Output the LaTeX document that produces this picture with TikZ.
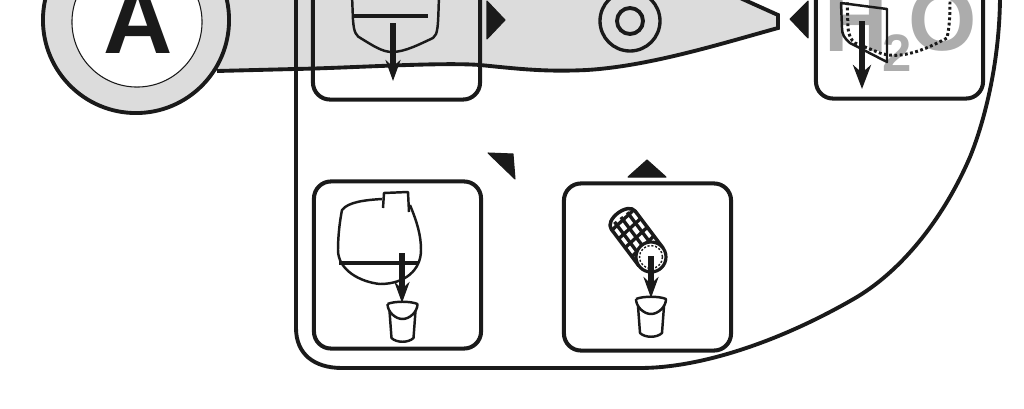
\documentclass[tikz,border=0pt]{standalone}
\usepackage{fontspec}
\usepackage{tikz}
\usepackage{xcolor}
\usetikzlibrary{arrows.meta}
\newfontfamily\signfont{Liberation Sans}
\definecolor{bodygray}{HTML}{DCDCDC}
\definecolor{watergray}{HTML}{ACACAC}
\definecolor{inkdark}{HTML}{1A1A1A}
\tikzset{
    panel/.style={draw=inkdark, line width=1.15pt, rounded corners=0.17cm, minimum width=1.67cm, minimum height=1.67cm, inner sep=0pt},
    outline/.style={draw=inkdark, line width=1.1pt},
    sketch/.style={draw=inkdark, line width=0.7pt, line join=round},
    marker/.style={fill=inkdark, draw=inkdark, line width=0.3pt, line join=round},
    drain/.style={draw=inkdark, line width=1.6pt, -{Stealth[length=0.21cm, width=0.15cm]}},
    bucket/.pic={
        \draw[sketch] (-15,1) .. controls (-8,-2) and (8,-2) .. (15,1) .. controls (15,9) and (7,16) .. (0,16) .. controls (-7,16) and (-15,9) .. (-15,1);
        \draw[sketch] (-13,8) -- (-11,35) .. controls (-6,40) and (6,40) .. (11,35) -- (13,8);
    }
}
\begin{document}
\begin{tikzpicture}[x=0.01cm, y=-0.01cm]
    \useasboundingbox (0,0) rectangle (1024,409);
    \clip (0,0) rectangle (1024,409);
    % machine body
    \fill[bodygray] (137,-5) -- (738,-5) -- (778,15) -- (778,28) .. controls (720,44) and (650,66) .. (587,70) .. controls (545,72) and (520,69) .. (480,65) .. controls (440,62) and (350,68) .. (295,69) -- (217,71) -- (137,71) -- cycle;
    \draw[outline] (217,71) -- (295,69) .. controls (350,68) and (440,62) .. (480,65) .. controls (520,69) and (545,72) .. (587,70) .. controls (650,66) and (720,44) .. (778,28) -- (778,15) -- (738,-3);
    \node[circle, outline, fill=bodygray, minimum size=1.86cm, inner sep=0pt] (discA) at (136,20) {};
    \node[circle, draw=inkdark, line width=0.3pt, fill=white, minimum size=1.3cm, inner sep=0pt] (discB) at (137,22) {};
    \node[anchor=base, inner sep=0pt, text=inkdark, font=\signfont\bfseries\fontsize{27.3}{30}\selectfont] (letterA) at (138.5,53) {A};
    % circuit line
    \draw[outline] (296,-5) -- (296,328) .. controls (296,354) and (314,368) .. (342,368) -- (640,368) .. controls (700,368) and (780,342) .. (857,297) .. controls (905,268) and (945,215) .. (970,157) .. controls (985,120) and (1000,60) .. (1000,-5);
    % gauge
    \draw[sketch, line width=0.95pt] (630,21) circle (30);
    \draw[sketch, line width=1.1pt] (630,21) circle (13);
    % water sign
    \node[anchor=base, inner sep=0pt, text=watergray, font=\signfont\bfseries\fontsize{25}{28}\selectfont] (letterH) at (856,51.5) {H};
    \node[anchor=base, inner sep=0pt, text=watergray, font=\signfont\bfseries\fontsize{15}{18}\selectfont] (digitTwo) at (897.5,71.5) {2};
    \node[anchor=base, inner sep=0pt, text=watergray, font=\signfont\bfseries\fontsize{25}{28}\selectfont] (letterO) at (942.5,51) {O};
    % panels
    \node[panel] (tankPanel) at (396.5,16) {};
    \node[panel] (filterPanel) at (899.5,15) {};
    \node[panel] (drainPanel) at (397.5,265) {};
    \node[panel] (rollerPanel) at (647.5,267) {};
    % markers
    \fill[marker] (487,1) -- (505,20) -- (487,39) -- cycle;
    \fill[marker] (808,1) -- (790,19) -- (808,38) -- cycle;
    \fill[marker] (628,177) -- (647,160) -- (666,177) -- cycle;
    \fill[marker] (488,153) -- (513,154) -- (515,179) -- cycle;
    % tank, top panel
    \draw[sketch] (352,-5) -- (353,20) .. controls (354,33) and (356,36) .. (362,39) .. controls (372,45) and (382,52) .. (392,52) .. controls (405,52) and (420,44) .. (433,38) .. controls (438,34) and (438,28) .. (439,-5);
    \draw[sketch, line width=1pt] (353,16) -- (428,16);
    \draw[drain] (393,23) -- (393,81);
    % filter pouch
    \draw[sketch] (841,3) -- (887,9) -- (887,62) -- (850,43) .. controls (844,38) and (842,34) .. (842,28) -- cycle;
    \draw[sketch, line width=0.85pt, dash pattern=on 0.8pt off 0.7pt] (847,-3) -- (848,28) .. controls (849,36) and (851,40) .. (855,43) -- (880,53) .. controls (900,60) and (925,50) .. (947,38) .. controls (950,25) and (950,10) .. (950,-3);
    \draw[drain, line width=1.9pt, -{Stealth[length=0.24cm, width=0.18cm]}] (862,21) -- (862,89);
    % tank, drain panel
    \draw[sketch] (383,208) -- (384,193) -- (408,192) -- (409,212);
    \draw[sketch] (410,205) .. controls (417,222) and (421,235) .. (421,250) .. controls (421,270) and (405,284) .. (380,284) .. controls (360,282) and (338,270) .. (338,250) .. controls (338,235) and (340,220) .. (342,210) .. controls (348,202) and (365,200) .. (382,199);
    \draw[sketch, line width=1.3pt] (339,263) -- (419,263);
    \draw[drain] (402,253) -- (402,303);
    \pic at (402.5,303) {bucket};
    % roller filter
    \begin{scope}[shift={(651,257)}, rotate=127]
        \draw[sketch, line width=1pt, fill=white] (0,-15) -- (46,-15) .. controls (58,-15) and (58,15) .. (46,15) -- (0,15);
        \foreach \rowy in {-8,0,8}
            \draw[sketch, line width=0.95pt] (8,\rowy) -- (50,\rowy);
        \foreach \colx in {12,23,34,45}
            \draw[sketch, line width=0.95pt] (\colx,-15) -- (\colx+3,15);
    \end{scope}
    \draw[sketch, line width=0.9pt, fill=white] (651,257) circle (15);
    \draw[sketch, line width=0.4pt, dash pattern=on 0.6pt off 0.5pt] (651,257) circle (11.5);
    \draw[drain] (651,256) -- (651,298);
    \pic at (651,298) {bucket};
\end{tikzpicture}
\end{document}
